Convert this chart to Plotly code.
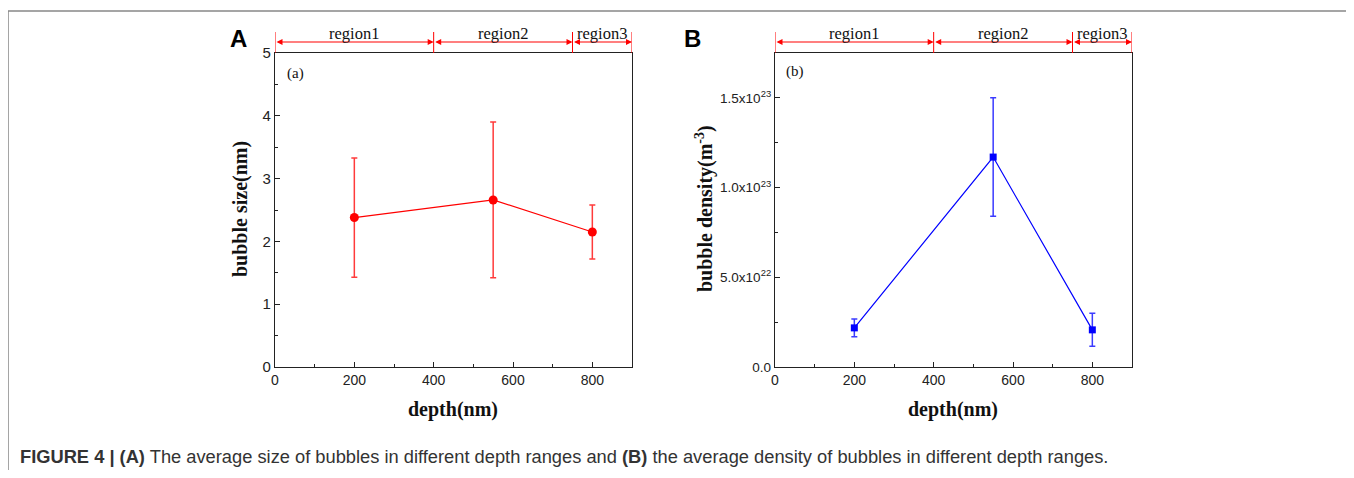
import plotly.graph_objects as go
from plotly.subplots import make_subplots

# data
depth = [200, 550, 800]
size_nm = [2.38, 2.66, 2.15]
size_err = [0.95, 1.24, 0.43]
density = [0.218e23, 1.17e23, 0.207e23]
density_err = [0.049e23, 0.33e23, 0.092e23]

regions = ["region1", "region2", "region3"]
region_edges = [0, 400, 750, 900]

dens_ticks = [0, 0.5e23, 1.0e23, 1.5e23]
dens_ticktext = ["0.0", "5.0x10<sup>22</sup>", "1.0x10<sup>23</sup>", "1.5x10<sup>23</sup>"]

# page has an 8px body margin; figure starts at (8, 8) in the window
W, H = 1346, 462
serif = "Liberation Serif"
sans = "Liberation Sans"


def px(x):
    return (x - 8) / W


def py(y):
    return 1 - (y - 8) / H


fig = make_subplots(rows=1, cols=2)

fig.add_trace(go.Scatter(
    x=depth, y=size_nm, mode="lines+markers",
    line=dict(color="#ff0000", width=1.2),
    marker=dict(color="#ff0000", size=9, symbol="circle"),
    error_y=dict(type="data", array=size_err, color="#ff3b3b", thickness=1.5, width=3),
    showlegend=False), row=1, col=1)

fig.add_trace(go.Scatter(
    x=depth, y=density, mode="lines+markers",
    line=dict(color="#0000ff", width=1.2),
    marker=dict(color="#0000ff", size=7, symbol="square"),
    error_y=dict(type="data", array=density_err, color="#3b3bff", thickness=1.5, width=3),
    showlegend=False), row=1, col=2)

fig.update_layout(
    width=W, height=H,
    template="none",
    margin=dict(l=0, r=0, t=0, b=0, pad=0, autoexpand=False),
    plot_bgcolor="white", paper_bgcolor="white",
    xaxis=dict(domain=[px(275), px(632)]),
    xaxis2=dict(domain=[px(775), px(1132)]),
    yaxis=dict(domain=[py(367), py(53)]),
    yaxis2=dict(domain=[py(367), py(53)]),
)

axis_common = dict(showgrid=False, zeroline=False, showline=True, linecolor="#222",
                   linewidth=1.3, mirror=True, ticks="inside", ticklen=5, automargin=False,
                   tickcolor="#222", tickfont=dict(family=sans, size=15, color="#222"))

for c in (1, 2):
    fig.update_xaxes(range=[0, 900], tickvals=[0, 200, 400, 600, 800],
                     minor=dict(ticks="inside", ticklen=3, dtick=100, tickcolor="#222"),
                     row=1, col=c, **axis_common)
    fig.update_xaxes(tickfont=dict(family=sans, size=14, color="#222"), row=1, col=c)

fig.update_yaxes(range=[0, 5], dtick=1,
                 minor=dict(ticks="inside", ticklen=3, dtick=0.5, tickcolor="#222"),
                 row=1, col=1, **axis_common)
fig.update_yaxes(axis_common, row=1, col=2)
fig.update_yaxes(range=[0, 1.75e23], tickvals=dens_ticks, ticktext=dens_ticktext,
                 tickfont=dict(family=sans, size=13.5, color="#222"),
                 minor=dict(ticks="inside", ticklen=3, tickvals=[0.25e23, 0.75e23, 1.25e23], tickcolor="#222"),
                 row=1, col=2)


def label(x, y, text, font, **kw):
    fig.add_annotation(x=px(x), y=py(y), xref="paper", yref="paper", text=text,
                       showarrow=False, xanchor=kw.pop("xanchor", "center"),
                       yanchor="middle", font=font, **kw)


# region markers above each panel
for xr in ("x", "x2"):
    for i, name in enumerate(regions):
        a, b = region_edges[i], region_edges[i + 1]
        fig.add_annotation(x=b, y=py(42), ax=a, ay=0, xref=xr, yref="paper",
                           axref=xr, ayref="pixel", text="", showarrow=True,
                           arrowhead=2, arrowside="end+start", arrowsize=1,
                           arrowwidth=1.2, arrowcolor="#ff0000")
        fig.add_annotation(x=(a + b) / 2, y=py(33), xref=xr, yref="paper",
                           text=name, showarrow=False, xanchor="center", yanchor="middle",
                           font=dict(family=serif, size=16.5, color="#111"))
    for e in region_edges:
        fig.add_shape(type="line", xref=xr, yref="paper", x0=e, x1=e,
                      y0=py(32), y1=py(53), line=dict(color="#ff0000", width=1))

# panel letters and inner labels
label(238, 38, "<b>A</b>", dict(family=sans, size=24, color="black"))
label(692, 38, "<b>B</b>", dict(family=sans, size=24, color="black"))
label(295, 73, "(a)", dict(family=serif, size=15, color="#111"))
label(795, 72, "(b)", dict(family=serif, size=15, color="#111"))

# axis titles
title_font = dict(family=serif, size=20, color="#111")
label(453, 409, "<b>depth(nm)</b>", title_font)
label(953, 409, "<b>depth(nm)</b>", title_font)
label(240, 209, "<b>bubble size(nm)</b>", title_font, textangle=-90)
label(704, 209, "<b>bubble density(m<sup>-3</sup>)</b>", title_font, textangle=-90)

# caption
label(18, 456, "<b>FIGURE 4 | (A)</b> The average size of bubbles in different depth ranges and "
               "<b>(B)</b> the average density of bubbles in different depth ranges.",
      dict(family=sans, size=18.3, color="#333"), xanchor="left")

# outer frame
fig.add_shape(type="rect", xref="paper", yref="paper", x0=px(8), x1=px(1353),
              y0=-0.05, y1=py(11), line=dict(color="#888", width=1.5))

fig.write_html("out.html")
